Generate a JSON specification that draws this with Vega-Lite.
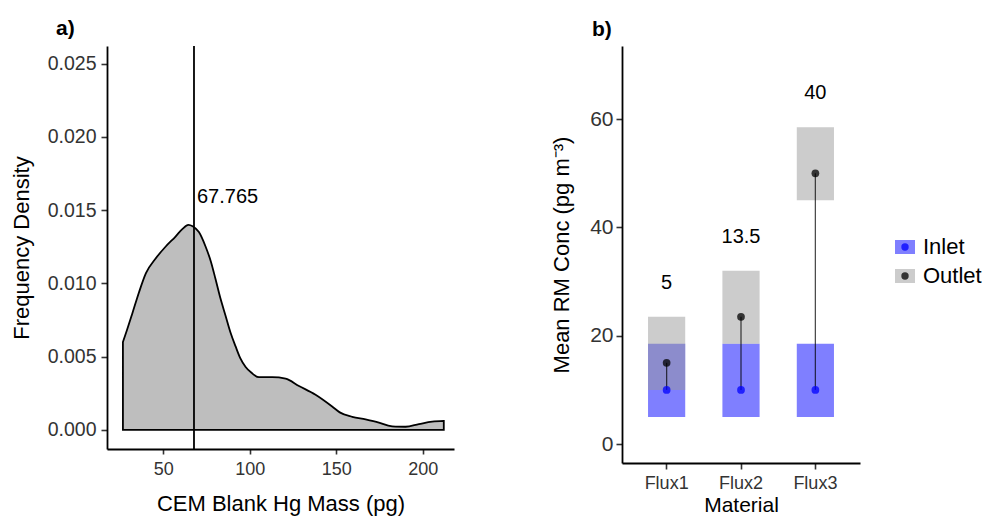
{
  "$schema": "https://vega.github.io/schema/vega-lite/v6.json",
  "background": "white",
  "padding": {"left": 10, "top": 18, "right": 0, "bottom": 8},
  "spacing": 96,
  "config": {
    "view": {"stroke": null},
    "font": "Liberation Sans",
    "axis": {
      "grid": false,
      "domainColor": "black",
      "domainWidth": 1.8,
      "tickColor": "#333333",
      "tickWidth": 1.6,
      "labelColor": "#333333",
      "titleColor": "black",
      "titleFontWeight": "normal",
      "labelFont": "Liberation Sans",
      "titleFont": "Liberation Sans"
    },
    "title": {"font": "Liberation Sans", "color": "black"}
  },
  "datasets": {
    "density": [
      {"x": 26.7, "d": 0.0060},
      {"x": 29, "d": 0.0068},
      {"x": 32, "d": 0.0079},
      {"x": 36, "d": 0.0094},
      {"x": 40, "d": 0.0107},
      {"x": 45.6, "d": 0.0117},
      {"x": 51.3, "d": 0.0125},
      {"x": 57.1, "d": 0.0132},
      {"x": 61, "d": 0.0137},
      {"x": 64.5, "d": 0.0140},
      {"x": 67, "d": 0.0139},
      {"x": 70.6, "d": 0.0135},
      {"x": 74.5, "d": 0.0125},
      {"x": 77.5, "d": 0.0115},
      {"x": 80.2, "d": 0.0103},
      {"x": 83, "d": 0.0090},
      {"x": 86, "d": 0.0078},
      {"x": 89, "d": 0.0066},
      {"x": 91.8, "d": 0.0057},
      {"x": 94.5, "d": 0.0049},
      {"x": 97.6, "d": 0.0043},
      {"x": 101, "d": 0.0039},
      {"x": 105.3, "d": 0.0036},
      {"x": 113, "d": 0.0036},
      {"x": 120.7, "d": 0.0035},
      {"x": 128.4, "d": 0.0030},
      {"x": 138, "d": 0.0024},
      {"x": 147.6, "d": 0.0016},
      {"x": 152, "d": 0.0012},
      {"x": 159.2, "d": 0.0009},
      {"x": 166.9, "d": 0.00072},
      {"x": 174.6, "d": 0.0005},
      {"x": 180, "d": 0.0003},
      {"x": 184.2, "d": 0.00023},
      {"x": 190, "d": 0.00022},
      {"x": 197.7, "d": 0.0004},
      {"x": 205.4, "d": 0.00057},
      {"x": 212.1, "d": 0.00062}
    ],
    "marker": [{"x": 67.765, "d": 0.0159, "label": "67.765"}],
    "ranges": [
      {"Material": "Flux1", "Type": "Inlet", "lo": 5, "hi": 18.5, "mean": 10},
      {"Material": "Flux2", "Type": "Inlet", "lo": 5, "hi": 18.5, "mean": 10},
      {"Material": "Flux3", "Type": "Inlet", "lo": 5, "hi": 18.5, "mean": 10},
      {"Material": "Flux1", "Type": "Outlet", "lo": 10, "hi": 23.5, "mean": 15},
      {"Material": "Flux2", "Type": "Outlet", "lo": 18.5, "hi": 32, "mean": 23.5},
      {"Material": "Flux3", "Type": "Outlet", "lo": 45, "hi": 58.5, "mean": 50}
    ],
    "pairs": [
      {"Material": "Flux1", "inlet": 10, "outlet": 15, "diff": "5"},
      {"Material": "Flux2", "inlet": 10, "outlet": 23.5, "diff": "13.5"},
      {"Material": "Flux3", "inlet": 10, "outlet": 50, "diff": "40"}
    ]
  },
  "hconcat": [
    {
      "width": 347,
      "height": 403,
      "title": {"text": "a)", "anchor": "start", "frame": "group", "fontSize": 21, "fontWeight": "bold", "dx": -51, "offset": -11, "baseline": "alphabetic"},
      "layer": [
        {
          "data": {"name": "density"},
          "mark": {"type": "area", "interpolate": "monotone", "fill": "#bebebe", "stroke": "black", "strokeWidth": 1.8},
          "encoding": {
            "x": {"field": "x", "type": "quantitative",
              "scale": {"domain": [17.5, 218], "nice": false, "zero": false},
              "axis": {"title": "CEM Blank Hg Mass (pg)", "values": [50, 100, 150, 200], "tickSize": 5, "labelFontSize": 18, "titleFontSize": 22, "labelPadding": 6, "titlePadding": 15}},
            "y": {"field": "d", "type": "quantitative",
              "scale": {"domain": [-0.0013, 0.0262], "nice": false, "zero": false},
              "axis": {"title": "Frequency Density", "values": [0, 0.005, 0.01, 0.015, 0.02, 0.025], "format": ".3f", "tickSize": 6, "labelFontSize": 19.5, "titleFontSize": 22, "labelPadding": 5, "titlePadding": 14}}
          }
        },
        {
          "data": {"name": "marker"},
          "mark": {"type": "rule", "color": "black", "strokeWidth": 1.8},
          "encoding": {"x": {"field": "x", "type": "quantitative"}}
        },
        {
          "data": {"name": "marker"},
          "mark": {"type": "text", "align": "left", "baseline": "middle", "dx": 3, "fontSize": 20, "color": "black"},
          "encoding": {
            "x": {"field": "x", "type": "quantitative"},
            "y": {"field": "d", "type": "quantitative"},
            "text": {"field": "label"}
          }
        }
      ]
    },
    {
      "width": 238,
      "height": 417,
      "title": {"text": "b)", "anchor": "start", "frame": "group", "fontSize": 21, "fontWeight": "bold", "dx": -30, "offset": -11, "baseline": "alphabetic"},
      "encoding": {
        "x": {"field": "Material", "type": "nominal",
          "scale": {"type": "band", "paddingInner": 0.5, "paddingOuter": 0.35},
          "axis": {"title": "Material", "labelAngle": 0, "labelFontSize": 18, "titleFontSize": 21, "tickSize": 6, "labelPadding": 5, "titlePadding": 2}}
      },
      "layer": [
        {
          "data": {"name": "ranges"},
          "mark": {"type": "bar", "opacity": 0.5},
          "encoding": {
            "y": {"field": "lo", "type": "quantitative",
              "scale": {"domain": [-3.5, 73.5], "nice": false, "zero": false},
              "axis": {"title": "Mean RM Conc (pg m⁻³)", "values": [0, 20, 40, 60], "tickSize": 6, "labelFontSize": 21, "titleFontSize": 22, "labelPadding": 3, "titlePadding": 16}},
            "y2": {"field": "hi"},
            "color": {"field": "Type", "type": "nominal",
              "scale": {"domain": ["Inlet", "Outlet"], "range": ["#0000ff", "#999999"]},
              "legend": {"orient": "none", "legendX": 787, "legendY": 190, "title": null, "padding": 0,
                "symbolType": "M-1,-0.7L1,-0.7L1,0.7L-1,0.7Z", "symbolSize": 400, "symbolStrokeWidth": 0, "symbolOpacity": 0.5,
                "labelFontSize": 22, "labelColor": "black", "labelOffset": 7, "rowPadding": 7, "zindex": 0}}
          }
        },
        {
          "data": {"name": "pairs"},
          "mark": {"type": "rule", "color": "black", "strokeWidth": 1.3, "opacity": 0.7},
          "encoding": {
            "y": {"field": "inlet", "type": "quantitative"},
            "y2": {"field": "outlet"}
          }
        },
        {
          "data": {"name": "ranges"},
          "mark": {"type": "point", "filled": true, "size": 60, "opacity": 0.75},
          "encoding": {
            "y": {"field": "mean", "type": "quantitative"},
            "fill": {"field": "Type", "type": "nominal",
              "scale": {"range": ["#0000ff", "#000000"]},
              "legend": {"orient": "none", "legendX": 787, "legendY": 190, "title": null, "padding": 0,
                "symbolType": "circle", "symbolSize": 55, "symbolStrokeWidth": 0,
                "labelFontSize": 22, "labelOpacity": 0, "labelOffset": 7, "rowPadding": 7, "zindex": 1}}
          }
        },
        {
          "data": {"name": "pairs"},
          "mark": {"type": "text", "baseline": "middle", "dy": -80, "fontSize": 20, "color": "black"},
          "encoding": {
            "y": {"field": "outlet", "type": "quantitative"},
            "text": {"field": "diff"}
          }
        }
      ]
    }
  ]
}
